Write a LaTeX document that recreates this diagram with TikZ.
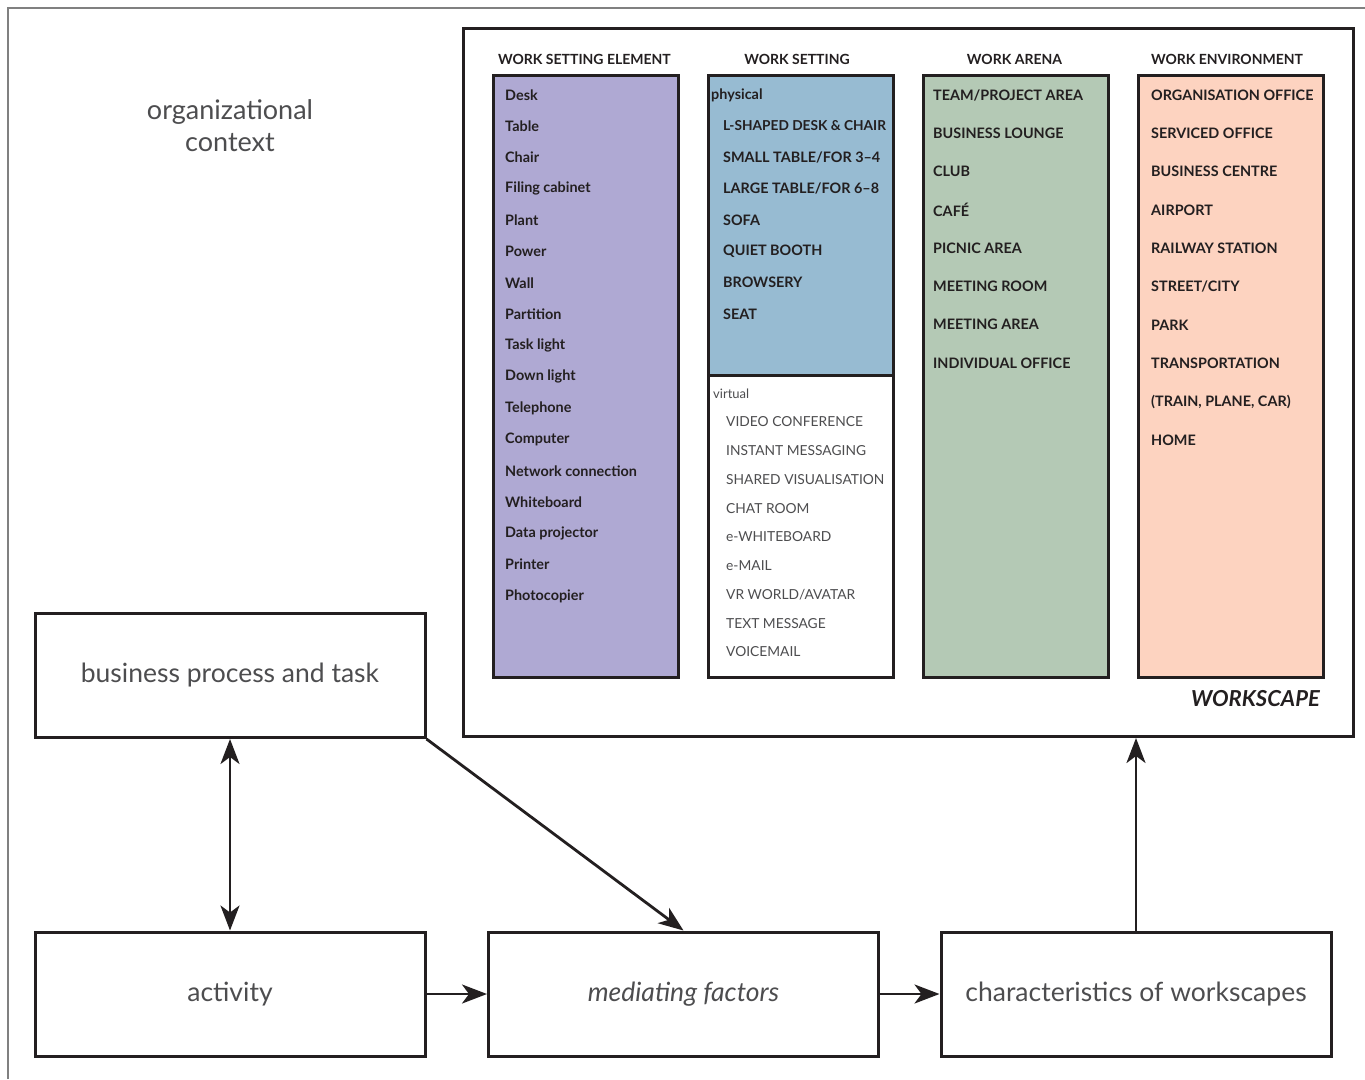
\documentclass[tikz,border=0pt]{standalone}
\usepackage{fontspec}
\setmainfont{Lato}
\usetikzlibrary{arrows.meta,calc}
\definecolor{ink}{HTML}{231F20}
\definecolor{soft}{HTML}{4D4D4F}
\definecolor{elemfill}{HTML}{AFA9D3}
\definecolor{setfill}{HTML}{97BBD2}
\definecolor{arenafill}{HTML}{B4C9B5}
\definecolor{envfill}{HTML}{FDD3C0}
\begin{document}
\begin{tikzpicture}[x=1pt,y=-1pt,
  colbox/.style={draw=ink, line width=3pt, minimum width=185pt, minimum height=602pt, inner sep=0pt, anchor=north west},
  head/.style={font=\fontsize{14}{16}\selectfont\bfseries, text=ink, inner sep=0pt},
  item/.style={font=\fontsize{14.4}{16}\selectfont\bfseries, text=ink, inner sep=0pt, anchor=west},
  vitem/.style={font=\fontsize{13.8}{16}\selectfont, text=soft, inner sep=0pt, anchor=west},
  bigbox/.style={draw=ink, line width=3pt, minimum width=390pt, minimum height=124pt, inner sep=0pt,
    font=\fontsize{26.5}{30}\selectfont, text=soft},
  tip/.tip={Stealth[length=25pt, width=19pt, inset=7pt]},
  conn/.style={draw=ink, line width=2.8pt, -tip},
  conn2/.style={draw=ink, line width=2.8pt, tip-tip}]
\useasboundingbox (0,0) rectangle (1365,1079);
\fill[white] (0,0) rectangle (1365,1079);

% outer context frame
\draw[gray, line width=1.5pt] (8,1079) -- (8,8) -- (1365,8);
\node[font=\fontsize{27}{32}\selectfont, text=soft, align=center, inner sep=0pt] (ctx) at (230,126) {organizational\\context};

% workscape frame
\node[draw=ink, line width=3pt, minimum width=890pt, minimum height=708pt, inner sep=0pt, anchor=north west] (ws) at (462,27) {};
\node[font=\fontsize{22}{25}\selectfont\bfseries\itshape, text=ink, anchor=east, inner sep=0pt] (wslabel) at (1320,699) {WORKSCAPE};

% column boxes
\node[colbox, fill=elemfill] (c1) at (492,74) {};
\fill[setfill] (707,74) rectangle (892,375);
\node[colbox] (c2) at (707,74) {};
\draw[ink, line width=3pt] (c2.west |- 0,375) -- (c2.east |- 0,375);
\node[colbox, fill=arenafill] (c3) at (922,74) {};
\node[colbox, fill=envfill] (c4) at (1137,74) {};

% column headings
\node[head] (h1) at (584.5,59) {WORK SETTING ELEMENT};
\node[head] (h2) at (797,59) {WORK SETTING};
\node[head] (h3) at (1014.5,59) {WORK ARENA};
\node[head] (h4) at (1227,59) {WORK ENVIRONMENT};

% work setting elements
\foreach \t [count=\i] in {Desk,Table,Chair,Filing cabinet,Plant,Power,Wall,Partition,Task light,Down light,Telephone,Computer,Network connection,Whiteboard,Data projector,Printer,Photocopier}
  \node[item] (e\i) at (505,{95+31.31*(\i-1)}) {\t};

% work settings, physical
\node[item] (phys) at (711,95) {physical};
\node[item, font=\fontsize{13.7}{16}\selectfont\bfseries] (p1) at (723,126) {L-SHAPED DESK \& CHAIR};
\foreach \t [count=\i from 2] in {SMALL TABLE/FOR 3–4,LARGE TABLE/FOR 6–8,SOFA,QUIET BOOTH,BROWSERY,SEAT}
  \node[item] (p\i) at (723,{126+31.33*(\i-1)}) {\t};

% work settings, virtual
\node[vitem, font=\fontsize{13}{15}\selectfont] (virt) at (713,394) {virtual};
\foreach \t [count=\i] in {VIDEO CONFERENCE,INSTANT MESSAGING,SHARED VISUALISATION,CHAT ROOM,e-WHITEBOARD,e-MAIL,VR WORLD/AVATAR,TEXT MESSAGE,VOICEMAIL}
  \node[vitem] (v\i) at (726,{422+28.75*(\i-1)}) {\t};

% work arenas
\foreach \t [count=\i] in {TEAM/PROJECT AREA,BUSINESS LOUNGE,CLUB,CAFÉ,PICNIC AREA,MEETING ROOM,MEETING AREA,INDIVIDUAL OFFICE}
  \node[item] (a\i) at (933,{95+38.29*(\i-1)}) {\t};

% work environments
\foreach \t [count=\i] in {ORGANISATION OFFICE,SERVICED OFFICE,BUSINESS CENTRE,AIRPORT,RAILWAY STATION,STREET/CITY,PARK,TRANSPORTATION,{(TRAIN, PLANE, CAR)},HOME}
  \node[item] (w\i) at (1151,{95+38.33*(\i-1)}) {\t};

% process boxes
\node[bigbox] (bp) at (230,675.5) {business process and task};
\node[bigbox] (act) at (230,994) {activity};
\node[bigbox, font=\fontsize{26.5}{30}\selectfont\itshape] (med) at (683.5,994) {mediating factors};
\node[bigbox] (chr) at (1136,994) {characteristics of workscapes};

% connectors
\draw[conn2] (bp.south) -- (act.north);
\draw[conn] (bp.south east) -- (med.north);
\draw[conn] (act.east) -- (med.west);
\draw[conn] (med.east) -- (chr.west);
\draw[conn] (chr.north) -- (chr.north |- ws.south);
\end{tikzpicture}
\end{document}
